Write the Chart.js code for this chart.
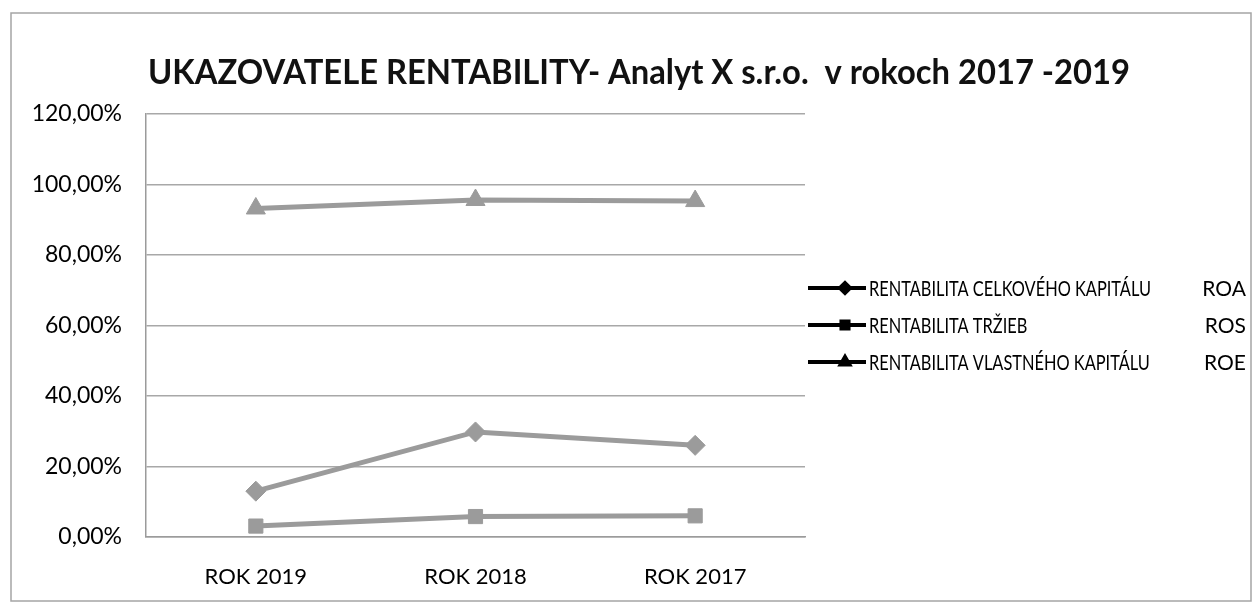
<!DOCTYPE html>
<html>
<head>
<meta charset="utf-8">
<script src="https://cdn.jsdelivr.net/npm/chart.js@4.4.1/dist/chart.umd.min.js"></script>
<style>
  html, body { margin: 0; padding: 0; background: #fff; }
  #wrap { width: 1260px; height: 605px; }
</style>
</head>
<body>
<div id="wrap"><canvas id="myChart" width="1260" height="605"></canvas></div>
<script>
// values, in percent
var categories = ['ROK 2019', 'ROK 2018', 'ROK 2017'];
var roaValues = [13.0, 29.8, 26.0];
var rosValues = [3.1, 5.8, 6.0];
var roeValues = [93.2, 95.6, 95.3];
var seriesNames = ['RENTABILITA CELKOVÉHO KAPITÁLU', 'RENTABILITA TRŽIEB', 'RENTABILITA VLASTNÉHO KAPITÁLU'];
var seriesShort = ['ROA', 'ROS', 'ROE'];
var titleText = 'UKAZOVATELE RENTABILITY- Analyt X s.r.o.  v rokoch 2017 -2019';

var grey = '#9b9b9b';
var font = 'Lato, "Open Sans", sans-serif';

// frame, title and legend are drawn by hand, like the office chart
var decor = {
    id: 'decor',
    beforeDraw: function (chart) {
        var ctx = chart.ctx;
        ctx.save();
        ctx.fillStyle = '#fff';
        ctx.fillRect(0, 0, chart.width, chart.height);
        ctx.strokeStyle = '#a5a5a5';
        ctx.lineWidth = 1.5;
        ctx.strokeRect(11, 13, 1240, 588);
        ctx.restore();
    },
    afterDraw: function (chart) {
        var ctx = chart.ctx;
        ctx.save();
        // title, squeezed to the width of the original
        ctx.font = 'bold 35px ' + font;
        ctx.fillStyle = '#111';
        ctx.textBaseline = 'alphabetic';
        var w = ctx.measureText(titleText).width;
        ctx.translate(148, 84);
        ctx.scale(982 / w, 1);
        ctx.fillText(titleText, 0, 0);
        ctx.restore();

        // legend
        ctx.save();
        ctx.font = '21px ' + font;
        var squeeze = 282 / ctx.measureText(seriesNames[0]).width;
        ctx.restore();
        chart.data.datasets.forEach(function (ds, i) {
            var y = 288 + i * 37;
            ctx.save();
            ctx.strokeStyle = '#000';
            ctx.lineWidth = 4;
            ctx.beginPath();
            ctx.moveTo(808, y);
            ctx.lineTo(866, y);
            ctx.stroke();
            ctx.fillStyle = '#000';
            Chart.helpers.drawPoint(ctx, {pointStyle: ds.pointStyle, radius: 5, rotation: 0, borderWidth: 1}, 845, y);
            ctx.font = '21px ' + font;
            ctx.fillStyle = '#000';
            ctx.textBaseline = 'middle';
            ctx.textAlign = 'right';
            ctx.fillText(seriesShort[i], 1246, y + 1);
            ctx.translate(869, y + 1);
            ctx.scale(squeeze, 1);
            ctx.textAlign = 'left';
            ctx.fillText(seriesNames[i], 0, 0);
            ctx.restore();
        });
    }
};

var context = document.getElementById('myChart').getContext('2d');

var data = {
    labels: categories,
    datasets: [
        {
            label: seriesNames[0],
            data: roaValues,
            pointStyle: 'rectRot',
            pointRadius: 10
        },
        {
            label: seriesNames[1],
            data: rosValues,
            pointStyle: 'rect',
            pointRadius: 10
        },
        {
            label: seriesNames[2],
            data: roeValues,
            pointStyle: 'triangle',
            pointRadius: 11
        }
    ]
};

data.datasets.forEach(function (ds) {
    ds.borderColor = grey;
    ds.backgroundColor = grey;
    ds.pointBackgroundColor = grey;
    ds.pointBorderColor = grey;
    ds.borderWidth = 5;
    ds.pointBorderWidth = 1;
    ds.tension = 0;
});

new Chart(context, {
    type: 'line',
    data: data,
    plugins: [decor],
    options: {
        responsive: false,
        animation: false,
        layout: {padding: {left: 0, right: 455, top: 114, bottom: 0}},
        plugins: {
            legend: {display: false},
            title: {display: false},
            tooltip: {enabled: false}
        },
        scales: {
            x: {
                offset: true,
                grid: {display: false, drawTicks: false},
                border: {display: true, color: grey, width: 1.5},
                ticks: {color: '#000', font: {family: font, size: 22}, padding: 27},
                afterFit: function (scale) { scale.height = 68; }
            },
            y: {
                min: 0,
                max: 120,
                grid: {color: '#a8a8a8', lineWidth: 1.5, drawTicks: false},
                border: {display: true, color: grey, width: 1.5},
                ticks: {
                    stepSize: 20,
                    color: '#000',
                    font: {family: font, size: 23},
                    padding: 24,
                    callback: function (v) { return v.toFixed(2).replace('.', ',') + '%'; }
                },
                afterFit: function (scale) { scale.width = 146; }
            }
        }
    }
});
</script>
</body>
</html>
